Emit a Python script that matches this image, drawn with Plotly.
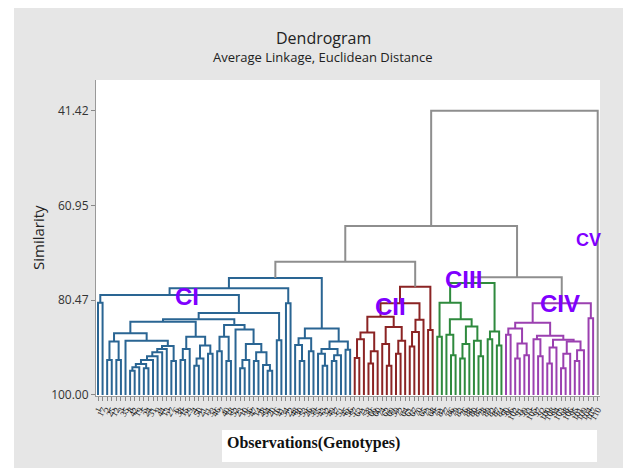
import plotly.graph_objects as go

# ---------------- data ----------------
# Each cluster is a nested tree: (left, right, similarity) ; leaves are genotype labels.
CI_TREE = (
    (   # B
        (   # A
            ("1", "17", 81.0),
            (   # N313
                (   # L
                    (   # LL
                        (   # LLa
                            (("2", "25", 92.8), ("12", "3", 92.8), 89.0),
                            ("35",
                             (((((((("8", "42", 95.0), "19", 94.3), ("5", "24", 94.5), 93.6),
                                   "31", 92.8), "9", 92.0), "44", 91.2), "13", 90.5),
                              ("27", "6", 93.0), 89.9),
                             88.8),
                            87.3),
                        (   # LLb
                            (("38", "15", 92.8), "29", 90.5),
                            ((("4", "50", 94.0), "21", 92.5), ("11", "33", 91.5), 89.8),
                            88.0),
                        84.9),
                    (   # LR
                        (("46", "7", 91.0), ("40", "18", 93.0), 88.0),
                        ("52",
                         ((("23", "10", 94.5), "36", 92.8),
                          (("47", "14", 93.0), ("28", ("54", "20", 95.0), 93.8), 91.2),
                          89.5),
                         86.5),
                        85.6),
                    84.4),
                ("16", "41", 88.7),
                83.1),
            79.4),
        ("34", "22", 81.1),
        78.0),
    (   # R1
        (("48", ("30", "53", 93.0), 89.7), ("26", "39", 91.0), 88.3),
        ((("55", ("43", "32", 94.0), 91.5), (("49", "37", 93.0), "51", 91.8), 90.5),
         ("45", "56", 90.7), 89.0),
        86.3),
    75.9)

CII_TREE = (
    (
        (
            ((("57", "63", 92.4), "71", 88.5), (("58", "66", 93.5), "60", 91.0), 87.1),
            (("74", ("62", "69", 94.0), 89.5), (("59", "72", 91.5), "64", 88.8), 86.0),
            83.9),
        ((("61", "67", 90.0), "70", 87.0), "65", 84.5),
        81.1),
    ("73", "68", 86.6),
    77.7)

CIII_TREE = (
    (
        ("75", "81", 88.0),
        (
            ("77", ("86", "79", 91.8), 87.6),
            ((("83", "76", 92.5), "88", 89.5), ("80", ("85", "78", 92.0), 88.8), 85.9),
            84.4),
        81.0),
    (("89", "82", 88.5), ("87", "84", 89.8), 86.9),
    76.9)

CIV_TREE = (
    (
        (("90", "96", 87.6), (("102", "91", 92.5), ("99", "93", 91.8), 89.4), 86.3),
        (
            ("105", ("97", "92", 92.0), 88.5),
            ((("100", "108", 93.5), "94", 90.2),
             ((("103", "98", 94.5), "106", 91.5), (("95", "101", 93.0), "109", 90.8), 89.0),
             88.6),
            87.8),
        85.1),
    ("104", "107", 84.2),
    81.1)

CV_LEAF = "110"

SIM_CI_CII = 72.53
SIM_CIII_CIV = 75.75
SIM_MAIN = 65.18
SIM_ROOT = 41.42

CLUSTER_NAMES = ["CI", "CII", "CIII", "CIV", "CV"]
CLUSTER_COLORS = ["#2a6593", "#8b2424", "#2f8a3e", "#9b40b0"]
UPPER_COLOR = "#8e8e8e"
LABEL_COLOR = "#7f00ff"

Y_TICKS = [41.42, 60.95, 80.47, 100.00]
Y_TICKTEXT = ["41.42", "60.95", "80.47", "100.00"]
BOTTOM = 100.0

# ---------------- layout of the tree ----------------
order = []


def walk(node, segs):
    if isinstance(node, str):
        order.append(node)
        return float(len(order) - 1), BOTTOM
    left, right, h = node
    xl, yl = walk(left, segs)
    xr, yr = walk(right, segs)
    segs.append(([xl, xl, xr, xr], [yl, h, h, yr]))
    return (xl + xr) / 2.0, h


def to_xy(segs):
    xs, ys = [], []
    for sx, sy in segs:
        xs += sx + [None]
        ys += sy + [None]
    return xs, ys


fig = go.Figure()
tops = []
for tree, color in zip([CI_TREE, CII_TREE, CIII_TREE, CIV_TREE], CLUSTER_COLORS):
    segs = []
    tops.append(walk(tree, segs))
    xs, ys = to_xy(segs)
    fig.add_trace(go.Scatter(x=xs, y=ys, mode="lines", line=dict(color=color, width=2),
                             hoverinfo="skip", showlegend=False))
cv_top = walk(CV_LEAF, [])

upper = []


def join(a, b, h):
    upper.append(([a[0], a[0], b[0], b[0]], [a[1], h, h, b[1]]))
    return ((a[0] + b[0]) / 2.0, h)


m1 = join(tops[0], tops[1], SIM_CI_CII)
m2 = join(tops[2], tops[3], SIM_CIII_CIV)
m3 = join(m1, m2, SIM_MAIN)
join(m3, cv_top, SIM_ROOT)
xs, ys = to_xy(upper)
fig.add_trace(go.Scatter(x=xs, y=ys, mode="lines", line=dict(color=UPPER_COLOR, width=2),
                         hoverinfo="skip", showlegend=False))

# ---------------- styling ----------------
OFF = 8                      # page body margin
W, H = 631 - OFF, 468 - OFF  # figure size
L, R, T, B = 96, 600, 80, 396  # plot area in window pixels


def px(x):
    return (x - L) / (R - L)


def py(y):
    return (B - y) / (B - T)


n = len(order)
fig.update_layout(
    width=W, height=H,
    margin=dict(l=L - OFF, r=W - (R - OFF), t=T - OFF, b=H - (B - OFF), pad=0),
    paper_bgcolor="#e6e6e6",
    plot_bgcolor="white",
    font=dict(family="Open Sans", color="#333333"),
    showlegend=False,
)
fig.update_xaxes(
    range=[-0.436, n - 1 + 0.5], showgrid=False, zeroline=False,
    tickmode="array", tickvals=list(range(n)), ticktext=order,
    ticks="outside", ticklen=4, tickcolor="#888888", tickangle=-60,
    tickfont=dict(size=9, family="Liberation Serif", color="#111111"),
    showline=True, linecolor="#999999", linewidth=1, automargin=False,
)
fig.update_yaxes(
    range=[BOTTOM + 0.21, 35.09], showgrid=False, zeroline=False,
    tickmode="array", tickvals=Y_TICKS, ticktext=Y_TICKTEXT,
    ticks="outside", ticklen=4, tickcolor="#888888",
    tickfont=dict(size=12, family="Open Sans", color="#333333"),
    showline=True, linecolor="#999999", linewidth=1, automargin=False,
)

ann = []
ann.append(dict(text="Dendrogram", x=px(323), y=py(38), xref="paper", yref="paper",
                showarrow=False, font=dict(size=16, family="Open Sans", color="#222222"),
                xanchor="center", yanchor="middle"))
ann.append(dict(text="Average Linkage, Euclidean Distance", x=px(323), y=py(57),
                xref="paper", yref="paper", showarrow=False,
                font=dict(size=13, family="Open Sans", color="#222222"),
                xanchor="center", yanchor="middle"))
ann.append(dict(text="Similarity", x=px(38), y=py(238), xref="paper", yref="paper",
                showarrow=False, textangle=-90,
                font=dict(size=15, family="Open Sans", color="#222222"),
                xanchor="center", yanchor="middle"))
ann.append(dict(text="<b>Observations(Genotypes)</b>", x=px(225), y=py(443),
                xref="paper", yref="paper", showarrow=False,
                font=dict(size=16, family="Liberation Serif", color="#111111"),
                xanchor="left", yanchor="middle"))

label_pos = {"CI": (187, 296, 24), "CII": (390, 306, 24), "CIII": (463.5, 279.5, 24),
             "CIV": (560, 303, 24), "CV": (588.5, 240, 18)}
for name in CLUSTER_NAMES:
    cx, cy, fs = label_pos[name]
    ann.append(dict(text="<b>%s</b>" % name, x=px(cx), y=py(cy), xref="paper", yref="paper",
                    showarrow=False, font=dict(size=fs, family="Liberation Sans", color=LABEL_COLOR),
                    xanchor="center", yanchor="middle"))
fig.update_layout(annotations=ann)

# white box behind the x-axis title
fig.add_shape(type="rect", xref="paper", yref="paper",
              x0=px(222), x1=px(597), y0=py(462), y1=py(430),
              fillcolor="white", line=dict(width=0), layer="below")
# white page margins left and right of the grey frame
fig.add_shape(type="rect", xref="paper", yref="paper",
              x0=px(0), x1=px(14), y0=py(480), y1=py(0),
              fillcolor="white", line=dict(width=0), layer="below")
fig.add_shape(type="rect", xref="paper", yref="paper",
              x0=px(624), x1=px(640), y0=py(480), y1=py(0),
              fillcolor="white", line=dict(width=0), layer="below")

fig.write_html("out.html")
